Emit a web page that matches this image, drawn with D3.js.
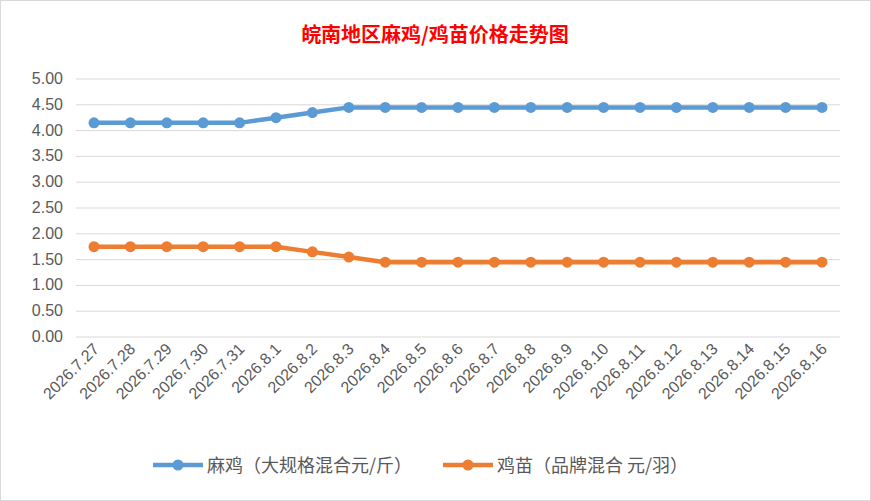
<!DOCTYPE html>
<html><head><meta charset="utf-8">
<script src="https://cdn.jsdelivr.net/npm/d3@7"></script>
<style>body{margin:0;background:#fff}svg{display:block}</style>
</head><body><svg width="871" height="501"></svg>
<script>
const categories=["2026.7.27","2026.7.28","2026.7.29","2026.7.30","2026.7.31","2026.8.1","2026.8.2","2026.8.3","2026.8.4","2026.8.5","2026.8.6","2026.8.7","2026.8.8","2026.8.9","2026.8.10","2026.8.11","2026.8.12","2026.8.13","2026.8.14","2026.8.15","2026.8.16"];
const maji=[4.15,4.15,4.15,4.15,4.15,4.25,4.35,4.45,4.45,4.45,4.45,4.45,4.45,4.45,4.45,4.45,4.45,4.45,4.45,4.45,4.45];
const jimiao=[1.75,1.75,1.75,1.75,1.75,1.75,1.65,1.55,1.45,1.45,1.45,1.45,1.45,1.45,1.45,1.45,1.45,1.45,1.45,1.45,1.45];
const yTicks=[0,0.5,1,1.5,2,2.5,3,3.5,4,4.5,5];
const seriesNames=["麻鸡（大规格混合元/斤）","鸡苗（品牌混合 元/羽）"];
const colors=["#5b9bd5","#ed7d31"];
const svg=d3.select("svg");
svg.append("rect").attr("x",0.5).attr("y",0.5).attr("width",870).attr("height",500).attr("fill","#fff").attr("stroke","#d9d9d9");
svg.append("text").attr("x",435).attr("y",42).attr("text-anchor","middle").attr("fill","#ff0000").attr("font-size",20).attr("font-weight","bold").attr("font-family","Noto Sans CJK SC, serif").text("皖南地区麻鸡/鸡苗价格走势图");
const x=d3.scalePoint().domain(categories).range([94,822]);
const y=d3.scaleLinear().domain([0,5]).range([337,79]);
const g=svg.append("g");
g.selectAll("line.grid").data(yTicks).join("line").attr("x1",76).attr("x2",840).attr("y1",d=>y(d)).attr("y2",d=>y(d)).attr("stroke","#d9d9d9");
g.selectAll("text.yl").data(yTicks).join("text").attr("x",63).attr("y",d=>y(d)+5).attr("text-anchor","end").attr("font-size",16).attr("fill","#595959").attr("font-family","Liberation Sans, Arial").text(d=>d.toFixed(2));
g.selectAll("text.xl").data(categories).join("text").attr("transform",d=>`translate(${x(d)+6},350) rotate(-45)`).attr("text-anchor","end").attr("font-size",16).attr("fill","#595959").attr("font-family","Liberation Sans, Arial").text(d=>d);
[maji,jimiao].forEach((s,i)=>{
  const line=d3.line().x((d,j)=>x(categories[j])).y(d=>y(d));
  g.append("path").attr("d",line(s)).attr("fill","none").attr("stroke",colors[i]).attr("stroke-width",4.5).attr("stroke-linejoin","round");
  g.selectAll(null).data(s).join("circle").attr("cx",(d,j)=>x(categories[j])).attr("cy",d=>y(d)).attr("r",5.5).attr("fill",colors[i]);
});
const lg=[[153,"麻鸡（大规格混合元/斤）"],[443,"鸡苗（品牌混合 元/羽）"]];
lg.forEach(([lx,t],i)=>{
  svg.append("line").attr("x1",lx).attr("x2",lx+50).attr("y1",465).attr("y2",465).attr("stroke",colors[i]).attr("stroke-width",4.5);
  svg.append("circle").attr("cx",lx+25).attr("cy",465).attr("r",5.5).attr("fill",colors[i]);
  svg.append("text").attr("x",lx+54).attr("y",472).attr("font-size",18).attr("fill","#595959").attr("font-family","Noto Sans CJK SC").text(seriesNames[i]);
});
</script></body></html>
